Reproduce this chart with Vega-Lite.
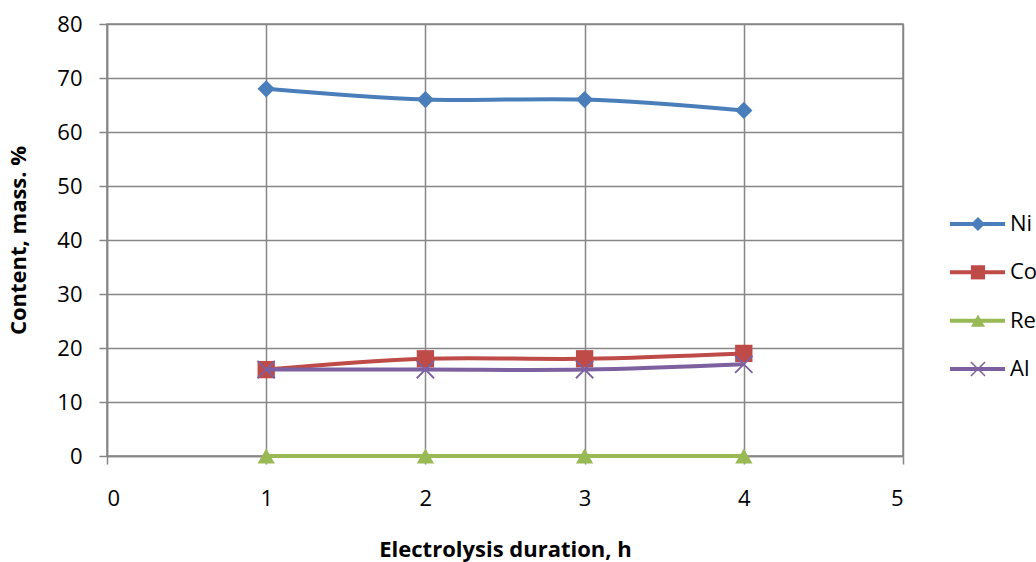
{
  "$schema": "https://vega.github.io/schema/vega-lite/v6.json",
  "width": 796,
  "height": 432,
  "autosize": {"type": "none"},
  "padding": {"left": 107, "top": 24, "right": 133, "bottom": 106},
  "background": "white",
  "config": {
    "font": "Open Sans",
    "view": {"stroke": "#868686", "strokeWidth": 1.5},
    "axis": {
      "gridColor": "#868686",
      "gridWidth": 1.5,
      "gridOpacity": 1,
      "domainColor": "#868686",
      "domainWidth": 1.5,
      "tickColor": "#868686",
      "tickWidth": 1.5,
      "tickSize": 8,
      "labelFont": "Open Sans",
      "labelFontSize": 22,
      "labelColor": "black",
      "titleFont": "Open Sans",
      "titleFontSize": 22,
      "titleFontWeight": "bold",
      "titleColor": "black"
    }
  },
  "data": {
    "values": [
      {"t": 1, "series": "Ni", "v": 68},
      {"t": 2, "series": "Ni", "v": 66},
      {"t": 3, "series": "Ni", "v": 66},
      {"t": 4, "series": "Ni", "v": 64},
      {"t": 1, "series": "Co", "v": 16},
      {"t": 2, "series": "Co", "v": 18},
      {"t": 3, "series": "Co", "v": 18},
      {"t": 4, "series": "Co", "v": 19},
      {"t": 1, "series": "Re", "v": 0},
      {"t": 2, "series": "Re", "v": 0},
      {"t": 3, "series": "Re", "v": 0},
      {"t": 4, "series": "Re", "v": 0},
      {"t": 1, "series": "Al", "v": 16},
      {"t": 2, "series": "Al", "v": 16},
      {"t": 3, "series": "Al", "v": 16},
      {"t": 4, "series": "Al", "v": 17}
    ]
  },
  "layer": [
    {
      "encoding": {
        "x": {
          "field": "t",
          "type": "quantitative",
          "scale": {"domain": [0, 5], "nice": false, "zero": false},
          "axis": {"values": [0, 1, 2, 3, 4, 5], "format": "d", "title": "Electrolysis duration, h", "labelPadding": 24, "titlePadding": 30}
        },
        "y": {
          "field": "v",
          "type": "quantitative",
          "scale": {"domain": [0, 80], "nice": false},
          "axis": {"values": [0, 10, 20, 30, 40, 50, 60, 70, 80], "title": "Content, mass. %", "labelPadding": 17, "titlePadding": 26}
        },
        "color": {
          "field": "series",
          "type": "nominal",
          "scale": {"domain": ["Ni", "Co", "Re", "Al"], "range": ["#4A7EBB", "#BE4B48", "#98B954", "#7D60A0"]},
          "legend": null
        }
      },
      "layer": [
        {
          "transform": [{"filter": "datum.series != 'Al'"}],
          "mark": {"type": "line", "interpolate": "catmull-rom", "strokeWidth": 4}
        },
        {
          "transform": [{"filter": "datum.series != 'Al'"}],
          "mark": {"type": "point", "filled": true, "opacity": 1, "size": 300},
          "encoding": {
            "shape": {
              "field": "series",
              "type": "nominal",
              "scale": {"domain": ["Ni", "Co", "Re"], "range": ["diamond", "square", "triangle-up"]},
              "legend": null
            }
          }
        },
        {
          "transform": [{"filter": "datum.series == 'Al'"}],
          "mark": {"type": "line", "interpolate": "catmull-rom", "strokeWidth": 4}
        },
        {
          "transform": [{"filter": "datum.series == 'Al'"}],
          "mark": {"type": "point", "filled": false, "opacity": 1, "size": 300, "strokeWidth": 1.8, "shape": "M-1,-1L1,1M-1,1L1,-1"}
        }
      ]
    },
    {
      "transform": [{"filter": "datum.t == 1"}],
      "encoding": {
        "y": {
          "field": "series",
          "type": "nominal",
          "scale": {"type": "point", "domain": ["Ni", "Co", "Re", "Al"], "range": [200, 345], "padding": 0},
          "axis": null
        },
        "color": {"field": "series", "type": "nominal", "legend": null}
      },
      "layer": [
        {
          "mark": {"type": "rule", "strokeWidth": 4},
          "encoding": {"x": {"datum": 5.295}, "x2": {"datum": 5.641}}
        },
        {
          "transform": [{"filter": "datum.series != 'Al'"}],
          "mark": {"type": "point", "filled": true, "opacity": 1, "size": 200},
          "encoding": {
            "x": {"datum": 5.471},
            "shape": {"field": "series", "type": "nominal", "legend": null}
          }
        },
        {
          "transform": [{"filter": "datum.series == 'Al'"}],
          "mark": {"type": "point", "filled": false, "opacity": 1, "size": 200, "strokeWidth": 1.5, "shape": "M-1,-1L1,1M-1,1L1,-1"},
          "encoding": {"x": {"datum": 5.471}}
        },
        {
          "mark": {"type": "text", "align": "left", "baseline": "middle", "fontSize": 22, "font": "Open Sans", "color": "black"},
          "encoding": {"x": {"datum": 5.672}, "text": {"field": "series"}, "color": {"value": "black"}}
        }
      ]
    }
  ],
  "resolve": {"scale": {"y": "independent"}}
}
